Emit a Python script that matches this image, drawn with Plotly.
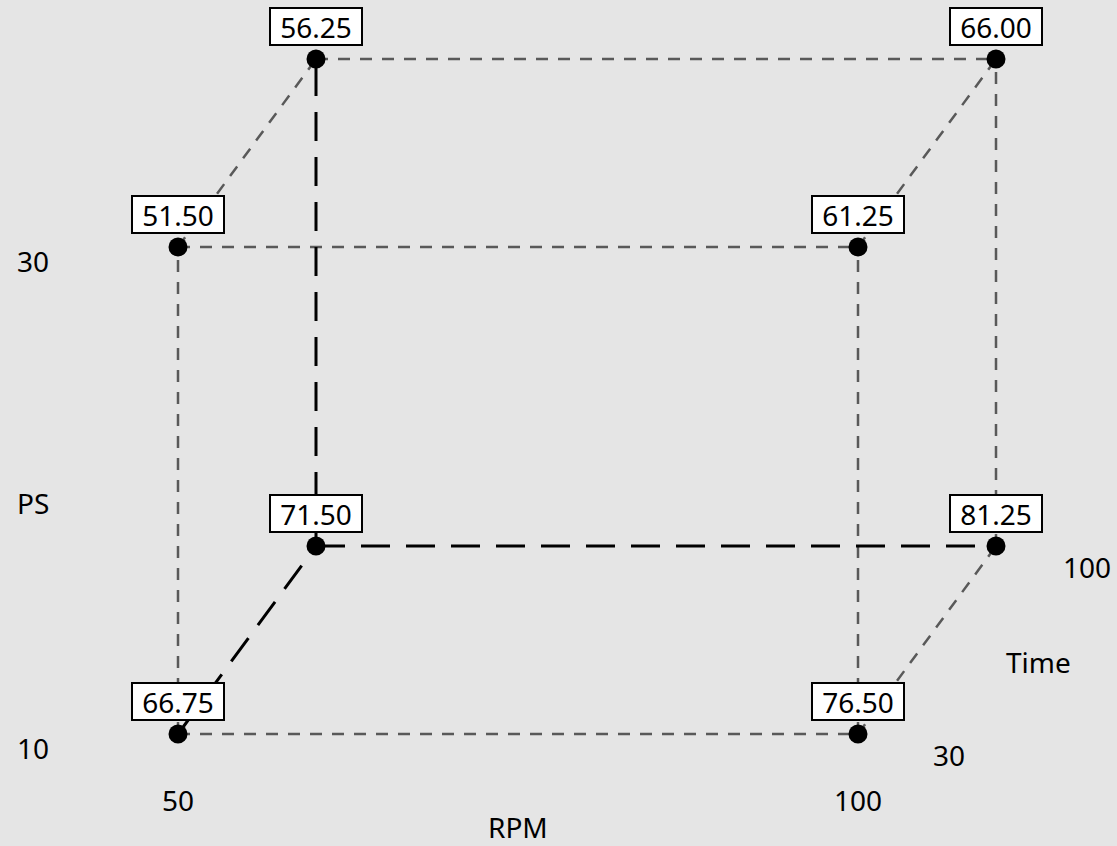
import plotly.graph_objects as go

# Cube plot data: factor levels and mean responses
rpm = [50, 100, 50, 100, 50, 100, 50, 100]
ps = [10, 10, 30, 30, 10, 10, 30, 30]
time = [30, 30, 30, 30, 100, 100, 100, 100]
response = [66.75, 76.50, 51.50, 61.25, 71.50, 81.25, 56.25, 66.00]

rpm_ticks = [50, 100]
ps_ticks = [10, 30]
time_ticks = [30, 100]

# oblique projection style for the depth (Time) axis
DEPTH_X = 10.147   # in RPM units
DEPTH_Y = 7.72     # in PS units


def proj(r, p, t):
    f = (t - time_ticks[0]) / (time_ticks[1] - time_ticks[0])
    return r + f * DEPTH_X, p + f * DEPTH_Y


px = []
py = []
for r, p, t in zip(rpm, ps, time):
    a, b = proj(r, p, t)
    px.append(a)
    py.append(b)

# edges: pairs of vertex indices differing in one factor
edges = []
for i in range(8):
    for j in range(i + 1, 8):
        diff = (rpm[i] != rpm[j]) + (ps[i] != ps[j]) + (time[i] != time[j])
        if diff == 1:
            edges.append((i, j))

# hidden vertex: low RPM, low PS, high Time
hidden = [k for k in range(8) if rpm[k] == 50 and ps[k] == 10 and time[k] == 100][0]

fig = go.Figure()
for i, j in edges:
    is_hidden = hidden in (i, j)
    fig.add_trace(go.Scatter(
        x=[px[i], px[j]], y=[py[i], py[j]], mode="lines",
        line=dict(color="#000000" if is_hidden else "#595959",
                  width=3 if is_hidden else 2.5,
                  dash="29px,16px" if is_hidden else "12px,10px"),
        hoverinfo="skip", showlegend=False))

fig.add_trace(go.Scatter(
    x=px, y=py, mode="markers",
    marker=dict(color="black", size=19),
    hoverinfo="skip", showlegend=False))

font = dict(family="Noto Sans, Open Sans, sans-serif", size=28, color="black")

annotations = []
for a, b, v in zip(px, py, response):
    annotations.append(dict(
        x=a, y=b, xref="x", yref="y", text=f"{v:.2f}", showarrow=False,
        yshift=33, font=font, bgcolor="white", bordercolor="black",
        borderwidth=2, borderpad=0, width=90, height=35))

# PS tick labels and title
for p in ps_ticks:
    annotations.append(dict(x=rpm_ticks[0], y=p, xref="x", yref="y", text=str(p),
                            showarrow=False, xshift=-145, yshift=-14, font=font))
annotations.append(dict(x=rpm_ticks[0], y=sum(ps_ticks) / 2, xref="x", yref="y",
                        text="PS", showarrow=False, xshift=-145, yshift=-12, font=font))
# RPM tick labels and title
for r in rpm_ticks:
    annotations.append(dict(x=r, y=ps_ticks[0], xref="x", yref="y", text=str(r),
                            showarrow=False, yshift=-66, font=font))
annotations.append(dict(x=sum(rpm_ticks) / 2, y=ps_ticks[0], xref="x", yref="y",
                        text="RPM", showarrow=False, yshift=-93, font=font))
# Time tick labels and title
for t in time_ticks:
    a, b = proj(rpm_ticks[1], ps_ticks[0], t)
    annotations.append(dict(x=a, y=b, xref="x", yref="y", text=str(t),
                            showarrow=False, xshift=91, yshift=-21, font=font))
a, b = proj(rpm_ticks[1], ps_ticks[0], sum(time_ticks) / 2)
annotations.append(dict(x=a, y=b, xref="x", yref="y", text="Time",
                        showarrow=False, xshift=111, yshift=-22, font=font))

fig.update_layout(
    width=1117, height=846,
    margin=dict(l=0, r=0, t=0, b=0),
    paper_bgcolor="#e5e5e5", plot_bgcolor="#e5e5e5",
    xaxis=dict(range=[36.912, 119.044], visible=False, fixedrange=True),
    yaxis=dict(range=[5.4004, 40.1437], visible=False, fixedrange=True),
    annotations=annotations,
    showlegend=False,
)

fig.write_html(
    "out.html",
    config={"displayModeBar": False},
    post_script="document.body.style.margin='0';document.body.style.overflow='hidden';"
                "document.body.style.background='#e5e5e5';",
)
